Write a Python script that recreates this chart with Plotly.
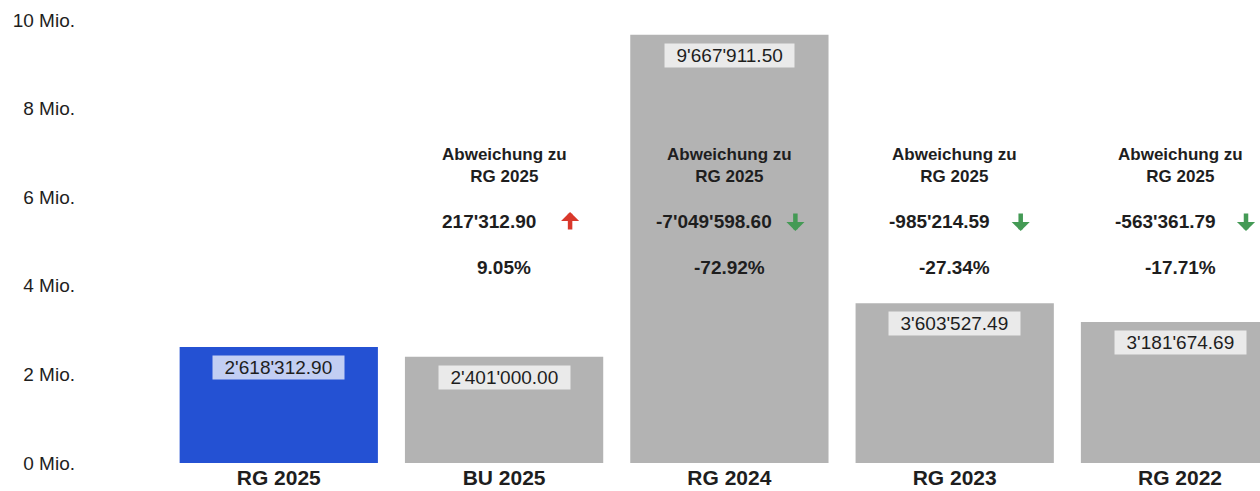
import plotly.graph_objects as go

categories = ["RG 2025", "BU 2025", "RG 2024", "RG 2023", "RG 2022"]
values = [2618312.90, 2401000.00, 9667911.50, 3603527.49, 3181674.69]
deviations = [None, 217312.90, -7049598.60, -985214.59, -563361.79]
percents = [None, 9.05, -72.92, -27.34, -17.71]
y_tick_vals = [0, 2e6, 4e6, 6e6, 8e6, 10e6]
y_tick_text = ["0 Mio.", "2 Mio.", "4 Mio.", "6 Mio.", "8 Mio.", "10 Mio."]

BLUE = "#2451d3"
GRAY = "#b3b3b3"
TXT = "#1e1e1e"
FONT = "Liberation Sans, Arial, sans-serif"


def fmt(v):
    s = f"{abs(v):,.2f}".replace(",", "'")
    return ("-" if v < 0 else "") + s


xs = list(range(len(categories)))
colors = [BLUE] + [GRAY] * (len(categories) - 1)

fig = go.Figure()
fig.add_trace(go.Bar(x=xs, y=values, width=0.88, marker=dict(color=colors, line=dict(width=0)),
                     hoverinfo="skip"))

annotations = []
for i, v in enumerate(values):
    annotations.append(dict(
        x=i, y=v, xref="x", yref="y", text="\u00a0\u00a0" + fmt(v) + "\u00a0\u00a0", showarrow=False,
        yanchor="top", yshift=-8, bgcolor="rgba(255,255,255,0.72)", borderpad=1,
        font=dict(family=FONT, size=19, color=TXT)))

for i in range(1, len(categories)):
    d = deviations[i]
    p = percents[i]
    annotations.append(dict(
        x=i, y=0.672, xref="x", yref="paper", text="<b>Abweichung zu<br>RG 2025</b>",
        showarrow=False, yanchor="middle", font=dict(family=FONT, size=17, color=TXT)))
    annotations.append(dict(
        x=i, y=0.546, xref="x", yref="paper", text="<b>" + fmt(d) + "</b>",
        showarrow=False, xanchor="center", xshift=-15, yanchor="middle",
        font=dict(family=FONT, size=19, color=TXT)))
    annotations.append(dict(
        x=i, y=0.442, xref="x", yref="paper", text=f"<b>{p:.2f}%</b>",
        showarrow=False, yanchor="middle", font=dict(family=FONT, size=19, color=TXT)))
    up = d > 0
    annotations.append(dict(
        x=i, y=0.5666 if up else 0.5237, xref="x", yref="paper", text="",
        showarrow=True, ax=0, ay=19 if up else -19, xshift=66,
        arrowhead=1, arrowsize=0.67, arrowwidth=4.5,
        arrowcolor="#d9382b" if up else "#449a55"))

fig.update_layout(
    width=1260, height=491,
    margin=dict(l=85, r=0, t=20, b=28),
    plot_bgcolor="white", paper_bgcolor="white",
    showlegend=False,
    annotations=annotations,
    xaxis=dict(range=[-0.86, 4.355], tickmode="array", tickvals=xs,
               ticktext=[f"<b>{c}</b>" for c in categories],
               tickfont=dict(family=FONT, size=21, color=TXT),
               showgrid=False, zeroline=False, showline=False, automargin=False,
               fixedrange=True),
    yaxis=dict(range=[0, 1e7], tickmode="array", tickvals=y_tick_vals, ticktext=y_tick_text,
               tickfont=dict(family=FONT, size=19, color=TXT),
               showgrid=False, zeroline=False, showline=False, automargin=False,
               ticklabelstandoff=9, fixedrange=True),
)

fig.write_html("out.html", config={"displayModeBar": False},
               post_script="document.body.style.margin='0';document.body.style.overflow='hidden';")
